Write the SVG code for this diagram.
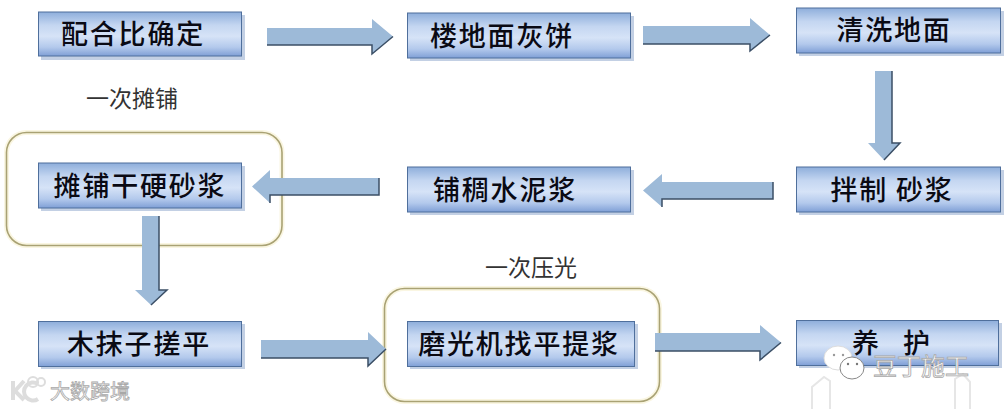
<svg xmlns="http://www.w3.org/2000/svg" width="1004" height="409" viewBox="0 0 1004 409">
<defs>
<linearGradient id="g" x1="0" y1="0" x2="0" y2="1">
<stop offset="0" stop-color="#8eaedb"/><stop offset="0.3" stop-color="#c4d6f1"/><stop offset="0.55" stop-color="#d6e3f7"/><stop offset="0.8" stop-color="#b3c9ec"/><stop offset="1" stop-color="#7f9fd6"/>
</linearGradient>
</defs>
<style>
.b{fill:url(#g);stroke:#4f6f9c;stroke-width:1}
.s{fill:#c3d0e4}
.t{font-family:"Noto Sans CJK SC","Liberation Sans",sans-serif;font-weight:500;font-size:27px;fill:#0a0a14;text-anchor:middle;letter-spacing:1.800px;dominant-baseline:central}
.c{font-family:"Noto Sans CJK SC","Liberation Sans",sans-serif;font-size:23px;fill:#333;text-anchor:middle;dominant-baseline:central}
.a{fill:#9dbad8;stroke:none}
.e{fill:none;stroke:#3b4f66;stroke-width:1.500}
.r{fill:none;stroke:#a9a274;stroke-width:1.600}
.o{fill:none;stroke:#faf6e2;stroke-width:5}
.w{font-family:"Noto Sans CJK SC","Liberation Sans",sans-serif;fill:#fff;stroke:#a8a8a8;stroke-width:.8;text-anchor:middle;dominant-baseline:central}
</style>
<rect width="1004" height="409" fill="#fff"/>
<g id="group-tanpu"><rect class="o" x="6.500" y="132.500" width="275.500" height="113" rx="20"/><rect class="r" x="6.500" y="132.500" width="275.500" height="113" rx="20"/></g>
<g id="group-yaguang"><rect class="o" x="384.500" y="288.500" width="275" height="113" rx="20"/><rect class="r" x="384.500" y="288.500" width="275" height="113" rx="20"/></g>
<g id="connectors">
<path class="a" d="M267 28H372V19L393 36.500L372 54V45H267Z"/><path class="e" d="M267 45H372V54L393 36.500"/>
<path class="a" d="M643 26H750V18L770 35L750 51V44H643Z"/><path class="e" d="M643 44H750V51L770 35"/>
<path class="a" d="M875 71H892V143H900L884 160L868 143H875Z"/><path class="e" d="M892 71V143H900L884 160"/>
<path class="a" d="M773 182V199H662V207L643 190.500L662 174V182Z"/><path class="e" d="M773 182V199H662V207"/>
<path class="a" d="M379 178V195H270V203L252 186.500L270 170V178Z"/><path class="e" d="M379 178V195H270V203"/>
<path class="a" d="M142 216H159V290H167L151 305L135 290H142Z"/><path class="e" d="M159 216V290H167L151 305"/>
<path class="a" d="M261 340H368V332L386 349L368 366V358H261Z"/><path class="e" d="M261 358H368V366L386 349"/>
<path class="a" d="M655 333H760V325L781 342.500L760 360V351H655Z"/><path class="e" d="M655 351H760V360L781 342.500"/>
</g>
<g id="n1"><rect class="s" x="41" y="15" width="204" height="45"/><rect class="b" x="38.500" y="12" width="203" height="44"/><text class="t" x="133" y="32">配合比确定</text></g>
<g id="n2"><rect class="s" x="410" y="16" width="224" height="45"/><rect class="b" x="407.500" y="13" width="223" height="45"/><text class="t" x="502" y="34.500">楼地面灰饼</text></g>
<g id="n3"><rect class="s" x="799" y="11" width="205" height="45"/><rect class="b" x="796.500" y="8" width="204" height="45"/><text class="t" x="894" y="28.500">清洗地面</text></g>
<g id="n4"><rect class="s" x="799" y="170" width="205" height="45"/><rect class="b" x="796.500" y="167" width="204" height="45"/><text class="t" x="892" y="188.500">拌制 砂浆</text></g>
<g id="n5"><rect class="s" x="410" y="170" width="224" height="45"/><rect class="b" x="407.500" y="167" width="223" height="45"/><text class="t" x="505" y="188.500">铺稠水泥浆</text></g>
<g id="n6"><rect class="s" x="41" y="166" width="204" height="45"/><rect class="b" x="38.500" y="163" width="203" height="45"/><text class="t" x="140" y="184">摊铺干硬砂浆</text></g>
<g id="n7"><rect class="s" x="41" y="324" width="204" height="45"/><rect class="b" x="38.500" y="321.500" width="203" height="45"/><text class="t" x="139" y="342.500">木抹子搓平</text></g>
<g id="n8"><rect class="s" x="410" y="324" width="228" height="45"/><rect class="b" x="407.500" y="321.500" width="227" height="45"/><text class="t" x="519" y="342.500">磨光机找平提浆</text></g>
<g id="n9"><rect class="s" x="799" y="323" width="203" height="45"/><rect class="b" x="796.500" y="320.500" width="202" height="45"/><text class="t" x="893" y="341" xml:space="preserve" style="letter-spacing:4px">养  护</text></g>
<text class="c" x="132" y="97">一次摊铺</text>
<text class="c" x="531" y="266">一次压光</text>
<g id="watermarks">
<path d="M812 409v-22l12-10 6 4v28M955 409v-30l8-5 7 8v27" fill="none" stroke="#e6e6e6" stroke-width="2"/>
<ellipse cx="838" cy="358" rx="14" ry="12" fill="#fff" stroke="#ddd"/>
<ellipse cx="852" cy="368" rx="12" ry="11" fill="#fff" stroke="#888"/>
<circle cx="834" cy="355" r="1.200" fill="#999"/><circle cx="843" cy="355" r="1.200" fill="#999"/>
<circle cx="848" cy="364" r="1.200" fill="#777"/><circle cx="857" cy="364" r="1.200" fill="#777"/>
<text class="w" x="921" y="364" font-size="24">豆丁施工</text>
<text class="w" x="90" y="390" font-size="20" stroke="#ccc" fill="#eee">大数跨境</text>
<path d="M13 381v19M24 381l-9 10 9 9M38 384a9 9 0 1 0 0 15" fill="none" stroke="#ddd" stroke-width="4"/>
<circle cx="33" cy="382" r="5" fill="none" stroke="#ddd" stroke-width="2"/><circle cx="41" cy="382" r="4" fill="none" stroke="#ddd" stroke-width="2"/>
</g>
</svg>
